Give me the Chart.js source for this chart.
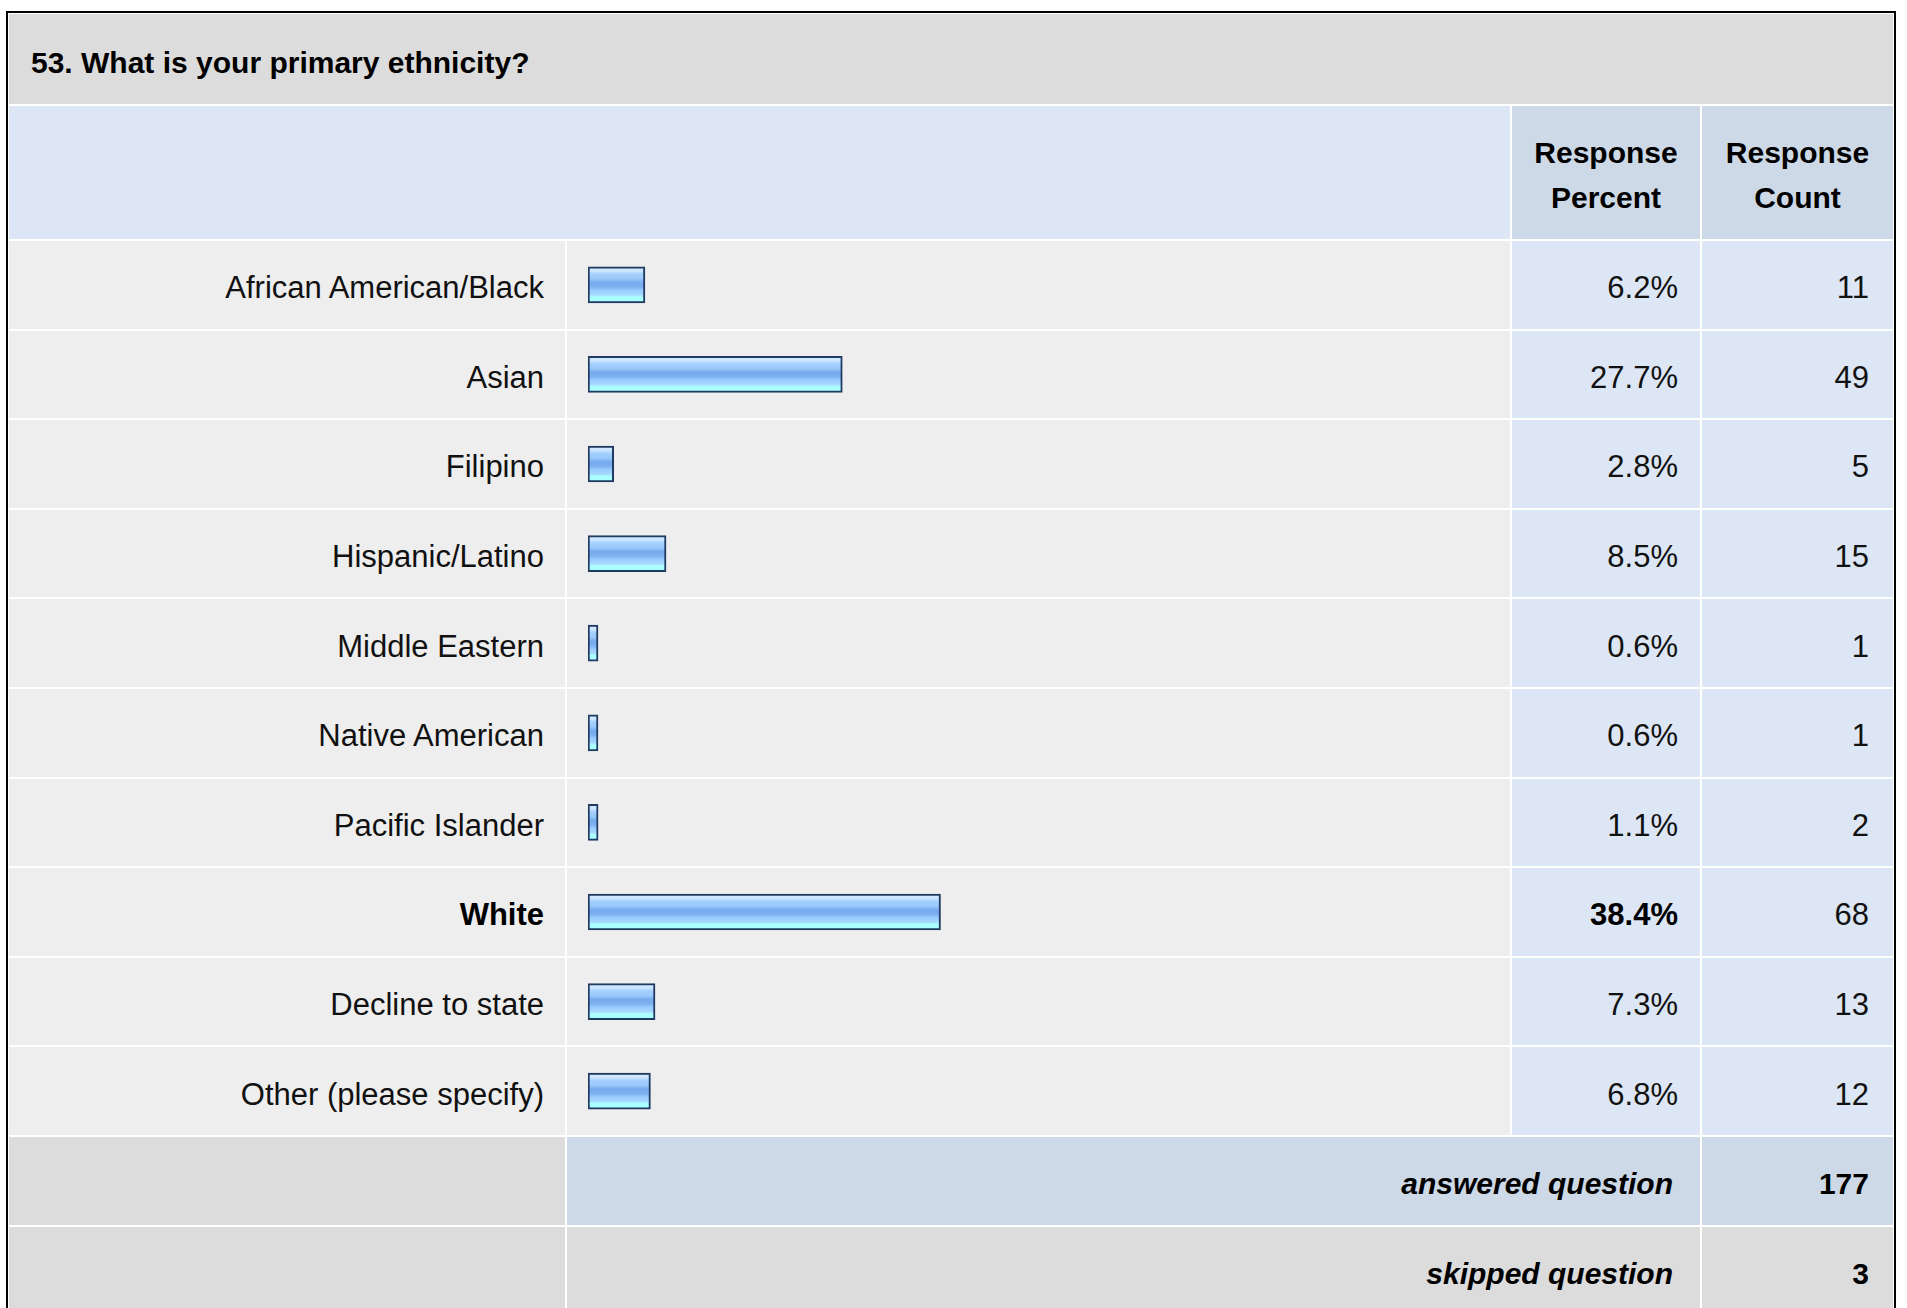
<!DOCTYPE html>
<html>
<head>
<meta charset="utf-8">
<script src="https://cdn.jsdelivr.net/npm/chart.js@4/dist/chart.umd.min.js"></script>
<style>
  body { margin: 0; background: #fff; font-family: "Liberation Sans", Arial, sans-serif; color: #111; }
  #box {
    position: absolute; left: 6px; top: 11px;
    border: 2px solid #000; border-bottom: none;
    background: #fff; padding: 1px;
    display: grid;
    grid-template-columns: 556px 943px 188px 191px;
    grid-template-rows: 90px 133px repeat(12, 87.6px);
    gap: 2px;
  }
  .cell { display: flex; align-items: center; justify-content: flex-end; font-size: 31px; padding-top: 7px; box-sizing: border-box; }
  .title { grid-column: 1 / 5; background: #dcdcdc; justify-content: flex-start; padding-left: 22px; padding-top: 8px; font-weight: bold; font-size: 30px; color: #000; }
  .hblank { grid-column: 1 / 3; background: #dce6f4; }
  .hcol { background: #cdd9e6; justify-content: center; text-align: center; font-weight: bold; font-size: 30px; line-height: 45px; padding-top: 4px; color: #000; }
  .lab { background: #eee; padding-right: 21px; }
  .bar { background: #eee; }
  .pct { background: #dce6f4; padding-right: 22px; }
  .cnt { background: #dce6f4; padding-right: 24px; }
  .fgray { background: #dcdcdc; }
  .fblue { background: #cdd9e6; }
  .ftext { grid-column: 2 / 4; padding-right: 27px; font-weight: bold; font-style: italic; font-size: 30px; color: #000; }
  .fcnt { padding-right: 24px; font-weight: bold; font-size: 30px; color: #000; }
  #chartWrap { position: absolute; left: 567px; top: 240px; width: 943px; height: 896px; }
</style>
</head>
<body>
<div id="box"></div>
<div id="chartWrap"><canvas id="chart"></canvas></div>
<script>
var questionTitle = '53. What is your primary ethnicity?';
var categories = ['African American/Black', 'Asian', 'Filipino', 'Hispanic/Latino', 'Middle Eastern',
  'Native American', 'Pacific Islander', 'White', 'Decline to state', 'Other (please specify)'];
var percents = [6.2, 27.7, 2.8, 8.5, 0.6, 0.6, 1.1, 38.4, 7.3, 6.8];
var counts = [11, 49, 5, 15, 1, 1, 2, 68, 13, 12];
var answeredCount = 177;
var skippedCount = 3;

document.addEventListener('DOMContentLoaded', function() {
  var box = document.getElementById('box');
  var top = percents.indexOf(Math.max.apply(null, percents));

  function cell(cls, html) {
    var d = document.createElement('div');
    d.className = 'cell ' + cls;
    if (html !== undefined) d.innerHTML = html;
    box.appendChild(d);
    return d;
  }

  cell('title', questionTitle);
  cell('hblank');
  cell('hcol', 'Response<br>Percent');
  cell('hcol', 'Response<br>Count');

  for (var i = 0; i < categories.length; i++) {
    var b = (i === top) ? ' style="font-weight:bold;color:#000"' : '';
    cell('lab', '<span' + b + '>' + categories[i] + '</span>');
    cell('bar');
    cell('pct', '<span' + b + '>' + percents[i].toFixed(1) + '%</span>');
    cell('cnt', String(counts[i]));
  }

  cell('fgray');
  cell('ftext fblue', 'answered question');
  cell('fcnt fblue', String(answeredCount));
  cell('fgray');
  cell('ftext fgray', 'skipped question');
  cell('fcnt fgray', String(skippedCount));

  // stripes of the bar image, light at top, darker middle, cyan at bottom
  var barFill = function(c) {
    var chart = c.chart;
    if (!chart.scales.y || c.dataIndex === undefined) return '#99ccff';
    var y = chart.scales.y.getPixelForValue(c.dataIndex);
    if (!isFinite(y)) return '#99ccff';
    var g = chart.ctx.createLinearGradient(0, y - 18, 0, y + 18);
    g.addColorStop(0, '#d4eaff');
    g.addColorStop(0.12, '#cce6ff');
    g.addColorStop(0.2, '#a6d0ff');
    g.addColorStop(0.34, '#99c8fa');
    g.addColorStop(0.44, '#77aaee');
    g.addColorStop(0.56, '#7db0f0');
    g.addColorStop(0.66, '#99ccff');
    g.addColorStop(0.78, '#a8d8ff');
    g.addColorStop(0.84, '#aaffff');
    g.addColorStop(1, '#aaffff');
    return g;
  };

  new Chart(document.getElementById('chart').getContext('2d'), {
    type: 'bar',
    data: {
      labels: categories,
      datasets: [{
        data: percents,
        backgroundColor: barFill,
        borderColor: '#1f3a60',
        borderWidth: 2,
        borderSkipped: false,
        barThickness: 36,
        minBarLength: 10
      }]
    },
    options: {
      indexAxis: 'y',
      responsive: true,
      maintainAspectRatio: false,
      animation: false,
      layout: { padding: { left: 21, right: 4, top: 0, bottom: 0 } },
      scales: {
        x: { display: false, min: 0, max: 100 },
        y: { display: false }
      },
      plugins: { legend: { display: false }, tooltip: { enabled: false } }
    }
  });
});
</script>
</body>
</html>
